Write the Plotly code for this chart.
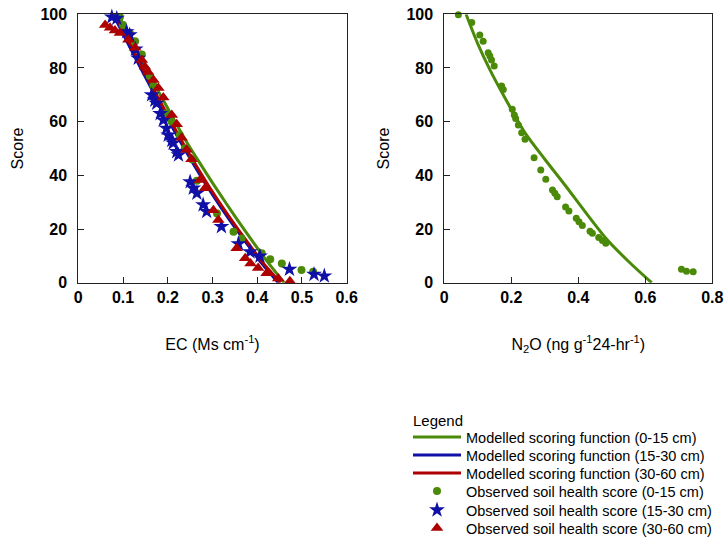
import plotly.graph_objects as go

W, H = 726, 552

# ---------------- EC panel data ----------------
# Modelled scoring functions (curve points)
ec_fun_x_0_15 = [0.089, 0.12, 0.15, 0.18, 0.21, 0.24, 0.27, 0.30, 0.33, 0.36, 0.39, 0.42, 0.46]
ec_fun_y_0_15 = [100, 90, 80.4, 71, 61.9, 53, 45, 37.2, 29.7, 22.4, 15.3, 8.4, 0]
ec_fun_x_15_30 = [0.078, 0.11, 0.14, 0.17, 0.20, 0.23, 0.26, 0.29, 0.32, 0.35, 0.38, 0.41, 0.447]
ec_fun_y_15_30 = [100, 89.5, 79.8, 70.3, 61, 52, 43.5, 35.4, 27.8, 20.6, 13.8, 7.2, 0]
ec_fun_x_30_60 = [0.082, 0.114, 0.144, 0.174, 0.204, 0.234, 0.264, 0.294, 0.324, 0.354, 0.384, 0.414, 0.452]
ec_fun_y_30_60 = [100, 89.5, 79.8, 70.3, 61, 52, 43.5, 35.4, 27.8, 20.6, 13.8, 7.2, 0]

# Observed scores
ec_obs_x_0_15 = [0.093, 0.100, 0.115, 0.127, 0.142, 0.160, 0.168, 0.197, 0.209, 0.227, 0.238, 0.254,
                 0.265, 0.31, 0.347, 0.365, 0.41, 0.429, 0.455, 0.499, 0.525]
ec_obs_y_0_15 = [99, 96, 93, 90, 85, 77, 73.5, 63, 60, 55, 50, 46,
                 38, 25.8, 19, 16.5, 11, 8.7, 7.2, 4.7, 4.1]
ec_obs_x_15_30 = [0.075, 0.086, 0.108, 0.115, 0.128, 0.134, 0.164, 0.171, 0.175, 0.183, 0.19, 0.197,
                  0.201, 0.209, 0.212, 0.22, 0.224, 0.25, 0.257, 0.265, 0.279, 0.287, 0.32, 0.358,
                  0.384, 0.406, 0.472, 0.527, 0.55]
ec_obs_y_15_30 = [99, 98.5, 93.5, 92.3, 87, 83.6, 70, 68, 66.8, 63, 60.6, 57.5,
                  55, 53, 52, 48.8, 47.6, 37.6, 35.2, 33.3, 29, 26.5, 20.9, 14.5,
                  11.5, 9.9, 5, 3.1, 2.5]
ec_obs_x_30_60 = [0.06, 0.071, 0.082, 0.093, 0.112, 0.127, 0.142, 0.149, 0.156, 0.168, 0.179, 0.19,
                  0.209, 0.22, 0.231, 0.242, 0.253, 0.272, 0.283, 0.302, 0.313, 0.354, 0.373,
                  0.385, 0.402, 0.421, 0.447, 0.473]
ec_obs_y_30_60 = [96, 95, 94, 93, 90.5, 87.5, 83, 80.5, 78.5, 75.5, 72.5, 69,
                  62.5, 59, 54, 49.5, 46, 38.3, 35.2, 27, 23.4, 12.8, 9.1,
                  7.2, 5.5, 3.5, 1.6, 0.5]

# ---------------- N2O panel data ----------------
n2o_fun_x = [0.065, 0.10, 0.136, 0.176, 0.24, 0.30, 0.36, 0.42, 0.485, 0.55, 0.619]
n2o_fun_y = [100, 89, 79.4, 70, 56, 46, 36.4, 26.5, 16.2, 7.9, 0]
n2o_obs_x = [0.042, 0.082, 0.106, 0.116, 0.131, 0.136, 0.141, 0.149, 0.171, 0.176, 0.203, 0.209,
             0.213, 0.221, 0.231, 0.241, 0.268, 0.288, 0.303, 0.323, 0.33, 0.337, 0.362, 0.372,
             0.394, 0.402, 0.412, 0.435, 0.442, 0.461, 0.472, 0.482, 0.708, 0.723, 0.743]
n2o_obs_y = [99.8, 96.9, 92.3, 90, 85.7, 84.5, 83, 80.7, 73.3, 72, 64.6, 62.5,
             61.2, 58.8, 55.9, 53.4, 46.6, 42, 38.5, 34.5, 33.3, 32, 28.2, 26.7,
             24, 22.7, 21.3, 19.2, 18.4, 16.8, 15.7, 14.7, 5, 4.3, 4.1]

ec_ticks = [0, 0.1, 0.2, 0.3, 0.4, 0.5, 0.6]
ec_ticklabels = ["0", "0.1", "0.2", "0.3", "0.4", "0.5", "0.6"]
n2o_ticks = [0, 0.2, 0.4, 0.6, 0.8]
n2o_ticklabels = ["0", "0.2", "0.4", "0.6", "0.8"]
score_ticks = [0, 20, 40, 60, 80, 100]

legend_names = [
    "Modelled scoring function (0-15 cm)",
    "Modelled scoring function (15-30 cm)",
    "Modelled scoring function (30-60 cm)",
    "Observed soil health score (0-15 cm)",
    "Observed soil health score (15-30 cm)",
    "Observed soil health score (30-60 cm)",
]

GREEN = "#4a8a08"
BLUE = "#1010a6"
RED = "#ad0000"
FONT = "Liberation Sans, Arial, sans-serif"


def px_x(p):
    return p / W


def px_y(p):
    return 1 - p / H


fig = go.Figure()

legend_ids = ["legend", "legend2", "legend3", "legend4", "legend5", "legend6"]

# modelled lines (EC panel)
for i, (xs, ys, col) in enumerate([
    (ec_fun_x_0_15, ec_fun_y_0_15, GREEN),
    (ec_fun_x_15_30, ec_fun_y_15_30, BLUE),
    (ec_fun_x_30_60, ec_fun_y_30_60, RED),
]):
    fig.add_trace(go.Scatter(x=xs, y=ys, mode="lines", name=legend_names[i],
                             line=dict(color=col, width=3, shape="spline", smoothing=0.6),
                             xaxis="x", yaxis="y", legend=legend_ids[i], cliponaxis=False))

# observed points (EC panel)
for i, (xs, ys, col, sym, size) in enumerate([
    (ec_obs_x_0_15, ec_obs_y_0_15, GREEN, "circle", 8),
    (ec_obs_x_15_30, ec_obs_y_15_30, BLUE, "star", 12),
    (ec_obs_x_30_60, ec_obs_y_30_60, RED, "triangle-up", 11),
]):
    fig.add_trace(go.Scatter(x=xs, y=ys, mode="markers", name=legend_names[3 + i],
                             marker=dict(color=col, symbol=sym, size=size, line=dict(width=0)),
                             xaxis="x", yaxis="y", legend=legend_ids[3 + i], cliponaxis=False))

# N2O panel
fig.add_trace(go.Scatter(x=n2o_fun_x, y=n2o_fun_y, mode="lines", showlegend=False,
                         line=dict(color=GREEN, width=3, shape="spline", smoothing=0.8),
                         xaxis="x2", yaxis="y2", cliponaxis=False))
fig.add_trace(go.Scatter(x=n2o_obs_x, y=n2o_obs_y, mode="markers", showlegend=False,
                         marker=dict(color=GREEN, symbol="circle", size=7, line=dict(width=0)),
                         xaxis="x2", yaxis="y2", cliponaxis=False))

axis_common = dict(showline=True, linecolor="#222", linewidth=1, mirror=True,
                   ticks="inside", ticklen=6, tickcolor="#222", tickwidth=1,
                   showgrid=False, zeroline=False, automargin=False,
                   ticklabeloverflow="allow",
                   tickfont=dict(family=FONT, size=16, color="black", weight="bold"))
title_font = dict(family=FONT, size=16, color="black")

ydom = [px_y(282.7), px_y(14.3)]
fig.update_layout(
    width=W, height=H,
    margin=dict(l=0, r=0, t=0, b=0, autoexpand=False),
    paper_bgcolor="white", plot_bgcolor="white",
    font=dict(family=FONT, size=14, color="black"),
    hovermode=False,
    xaxis=dict(domain=[px_x(78.3), px_x(346.7)], range=[0, 0.6], tickvals=ec_ticks,
               ticktext=ec_ticklabels, anchor="y", ticklabelstandoff=0,
               title=dict(text="EC (Ms cm<sup>-1</sup>)", font=title_font, standoff=33),
               **axis_common),
    yaxis=dict(domain=ydom, range=[0, 100], tickvals=score_ticks, anchor="x",
               ticklabelstandoff=7,
               title=dict(text="Score", font=title_font, standoff=12), **axis_common),
    xaxis2=dict(domain=[px_x(444.3), px_x(712.3)], range=[0, 0.8], tickvals=n2o_ticks,
                ticktext=n2o_ticklabels, anchor="y2", ticklabelstandoff=0,
                title=dict(text="N<sub>2</sub>O (ng g<sup>-1</sup>24-hr<sup>-1</sup>)",
                           font=title_font, standoff=33),
                **axis_common),
    yaxis2=dict(domain=ydom, range=[0, 100], tickvals=score_ticks, anchor="x2",
                ticklabelstandoff=7,
                title=dict(text="Score", font=title_font, standoff=12), **axis_common),
    annotations=[dict(text="Legend", x=px_x(411), y=px_y(421), xref="paper", yref="paper",
                      xanchor="left", yanchor="middle", showarrow=False,
                      font=dict(family=FONT, size=15, color="black"))],
)

# one legend per entry so the row spacing matches the reference
row_y = [437, 455, 473, 491, 510, 528]
for lid, ry in zip(legend_ids, row_y):
    fig.update_layout({lid: dict(x=px_x(408), y=px_y(ry), xanchor="left", yanchor="middle",
                                 bgcolor="rgba(0,0,0,0)", borderwidth=0, itemwidth=48,
                                 font=dict(family=FONT, size=14.5, color="black"))})

# remove the browser's default page margin so the figure sits at the window origin
fig.write_html("out.html",
               config={"displayModeBar": False},
               post_script="document.body.style.margin='0';document.body.style.overflow='hidden';")
